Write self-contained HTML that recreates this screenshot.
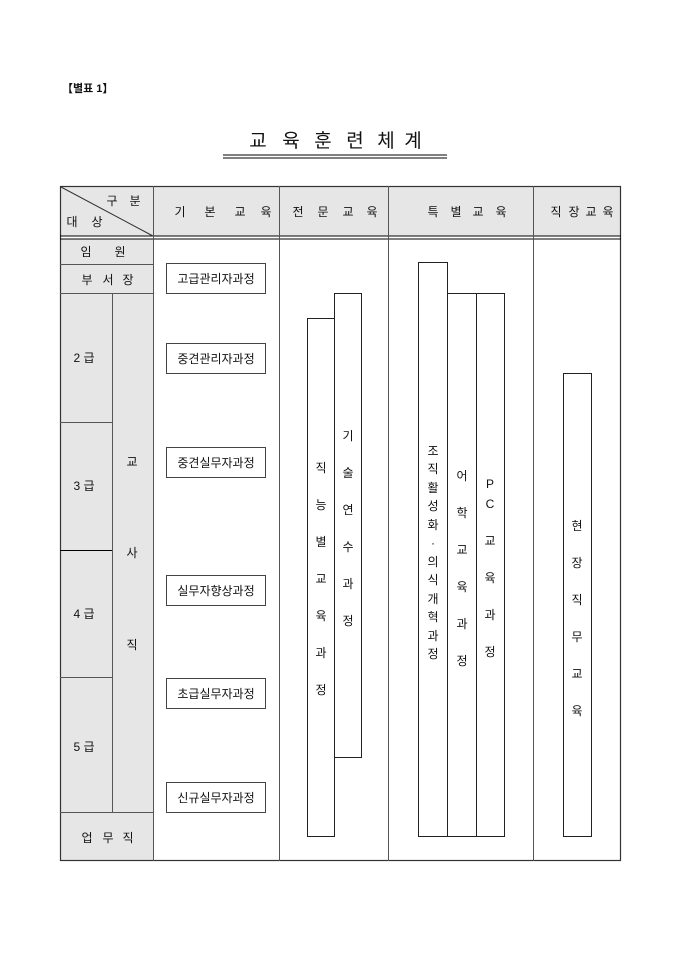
<!DOCTYPE html>
<html><head><meta charset="utf-8"><style>
html,body{margin:0;padding:0;background:#fff;}
svg{display:block;}
text{font-family:"Liberation Sans","Noto Sans CJK KR","NanumGothic",sans-serif;font-size:12px;fill:#111;text-anchor:middle;}
</style></head><body>
<svg width="680" height="962" viewBox="0 0 680 962" xmlns="http://www.w3.org/2000/svg">
<text x="62" y="92" style="font-size:11px;font-weight:bold;text-anchor:start">【별표 1】</text>
<g style="font-size:19px">
<text x="258" y="147" style="font-size:19px">교</text><text x="291" y="147" style="font-size:19px">육</text><text x="323" y="147" style="font-size:19px">훈</text><text x="355" y="147" style="font-size:19px">련</text><text x="386" y="147" style="font-size:19px">체</text><text x="413" y="147" style="font-size:19px">계</text>
</g>
<line x1="223" y1="155" x2="447" y2="155" stroke="#000" stroke-width="1"/>
<line x1="223" y1="158" x2="447" y2="158" stroke="#000" stroke-width="1"/>

<rect x="60" y="186" width="561" height="50" fill="#e6e6e6"/>
<rect x="60" y="239" width="93" height="622" fill="#e6e6e6"/>

<rect x="60.5" y="186.5" width="560" height="674" fill="none" stroke="#333" stroke-width="1.2"/>
<line x1="60" y1="236" x2="621" y2="236" stroke="#000"/>
<line x1="60" y1="239" x2="621" y2="239" stroke="#000"/>
<g stroke="#555" stroke-width="1">
<line x1="153.5" y1="186" x2="153.5" y2="861"/>
<line x1="279.5" y1="186" x2="279.5" y2="861"/>
<line x1="388.5" y1="186" x2="388.5" y2="861"/>
<line x1="533.5" y1="186" x2="533.5" y2="861"/>
<line x1="60" y1="264.5" x2="153" y2="264.5"/>
<line x1="60" y1="293.5" x2="153" y2="293.5"/>
<line x1="60" y1="422.5" x2="112" y2="422.5"/>
<line x1="60" y1="550.5" x2="112" y2="550.5" stroke="#000"/>
<line x1="60" y1="677.5" x2="112" y2="677.5"/>
<line x1="60" y1="812.5" x2="153" y2="812.5"/>
<line x1="112.5" y1="293" x2="112.5" y2="812"/>
<line x1="61" y1="187" x2="153" y2="236" stroke="#333"/>
</g>

<text x="112" y="205">구</text><text x="135" y="205">분</text>
<text x="72" y="226">대</text><text x="97" y="226">상</text>
<text x="180" y="216">기</text><text x="210" y="216">본</text><text x="240" y="216">교</text><text x="266" y="216">육</text>
<text x="298" y="216">전</text><text x="323" y="216">문</text><text x="348" y="216">교</text><text x="372" y="216">육</text>
<text x="433" y="216">특</text><text x="456" y="216">별</text><text x="478" y="216">교</text><text x="501" y="216">육</text>
<text x="556" y="216">직</text><text x="574" y="216">장</text><text x="591" y="216">교</text><text x="608" y="216">육</text>

<text x="86" y="256">임</text><text x="120" y="256">원</text>
<text x="87" y="284">부</text><text x="108" y="284">서</text><text x="128" y="284">장</text>
<text x="84" y="362">2 급</text>
<text x="84" y="490">3 급</text>
<text x="84" y="618">4 급</text>
<text x="84" y="751">5 급</text>
<text x="132" y="466">교</text>
<text x="132" y="557">사</text>
<text x="132" y="649">직</text>
<text x="87" y="842">업</text><text x="108" y="842">무</text><text x="128" y="842">직</text>

<g fill="#fff" stroke="#444" stroke-width="1">
<rect x="166.5" y="263.5" width="99" height="30"/>
<rect x="166.5" y="343.5" width="99" height="30"/>
<rect x="166.5" y="447.5" width="99" height="30"/>
<rect x="166.5" y="575.5" width="99" height="30"/>
<rect x="166.5" y="678.5" width="99" height="30"/>
<rect x="166.5" y="782.5" width="99" height="30"/>
</g>
<text x="216" y="283">고급관리자과정</text>
<text x="216" y="363">중견관리자과정</text>
<text x="216" y="467">중견실무자과정</text>
<text x="216" y="595">실무자향상과정</text>
<text x="216" y="698">초급실무자과정</text>
<text x="216" y="802">신규실무자과정</text>

<g fill="#fff" stroke="#222" stroke-width="1">
<rect x="307.5" y="318.5" width="27" height="518"/>
<rect x="334.5" y="293.5" width="27" height="464"/>
<rect x="418.5" y="262.5" width="29" height="574"/>
<rect x="447.5" y="293.5" width="29" height="543"/>
<rect x="476.5" y="293.5" width="28" height="543"/>
<rect x="563.5" y="373.5" width="28" height="463"/>
</g>
<text x="321" y="472">직</text><text x="321" y="509">능</text><text x="321" y="546">별</text><text x="321" y="583">교</text><text x="321" y="620">육</text><text x="321" y="657">과</text><text x="321" y="694">정</text>
<text x="348" y="440">기</text><text x="348" y="477">술</text><text x="348" y="514">연</text><text x="348" y="551">수</text><text x="348" y="588">과</text><text x="348" y="625">정</text>
<text x="433" y="455">조</text><text x="433" y="473">직</text><text x="433" y="492">활</text><text x="433" y="510">성</text><text x="433" y="529">화</text><text x="433" y="547">·</text><text x="433" y="566">의</text><text x="433" y="584">식</text><text x="433" y="603">개</text><text x="433" y="621">혁</text><text x="433" y="640">과</text><text x="433" y="658">정</text>
<text x="462" y="480">어</text><text x="462" y="517">학</text><text x="462" y="554">교</text><text x="462" y="591">육</text><text x="462" y="628">과</text><text x="462" y="665">정</text>
<text x="490" y="488">P</text><text x="490" y="508">C</text><text x="490" y="545">교</text><text x="490" y="582">육</text><text x="490" y="619">과</text><text x="490" y="656">정</text>
<text x="577" y="530">현</text><text x="577" y="567">장</text><text x="577" y="604">직</text><text x="577" y="641">무</text><text x="577" y="678">교</text><text x="577" y="715">육</text>
</svg>
</body></html>
